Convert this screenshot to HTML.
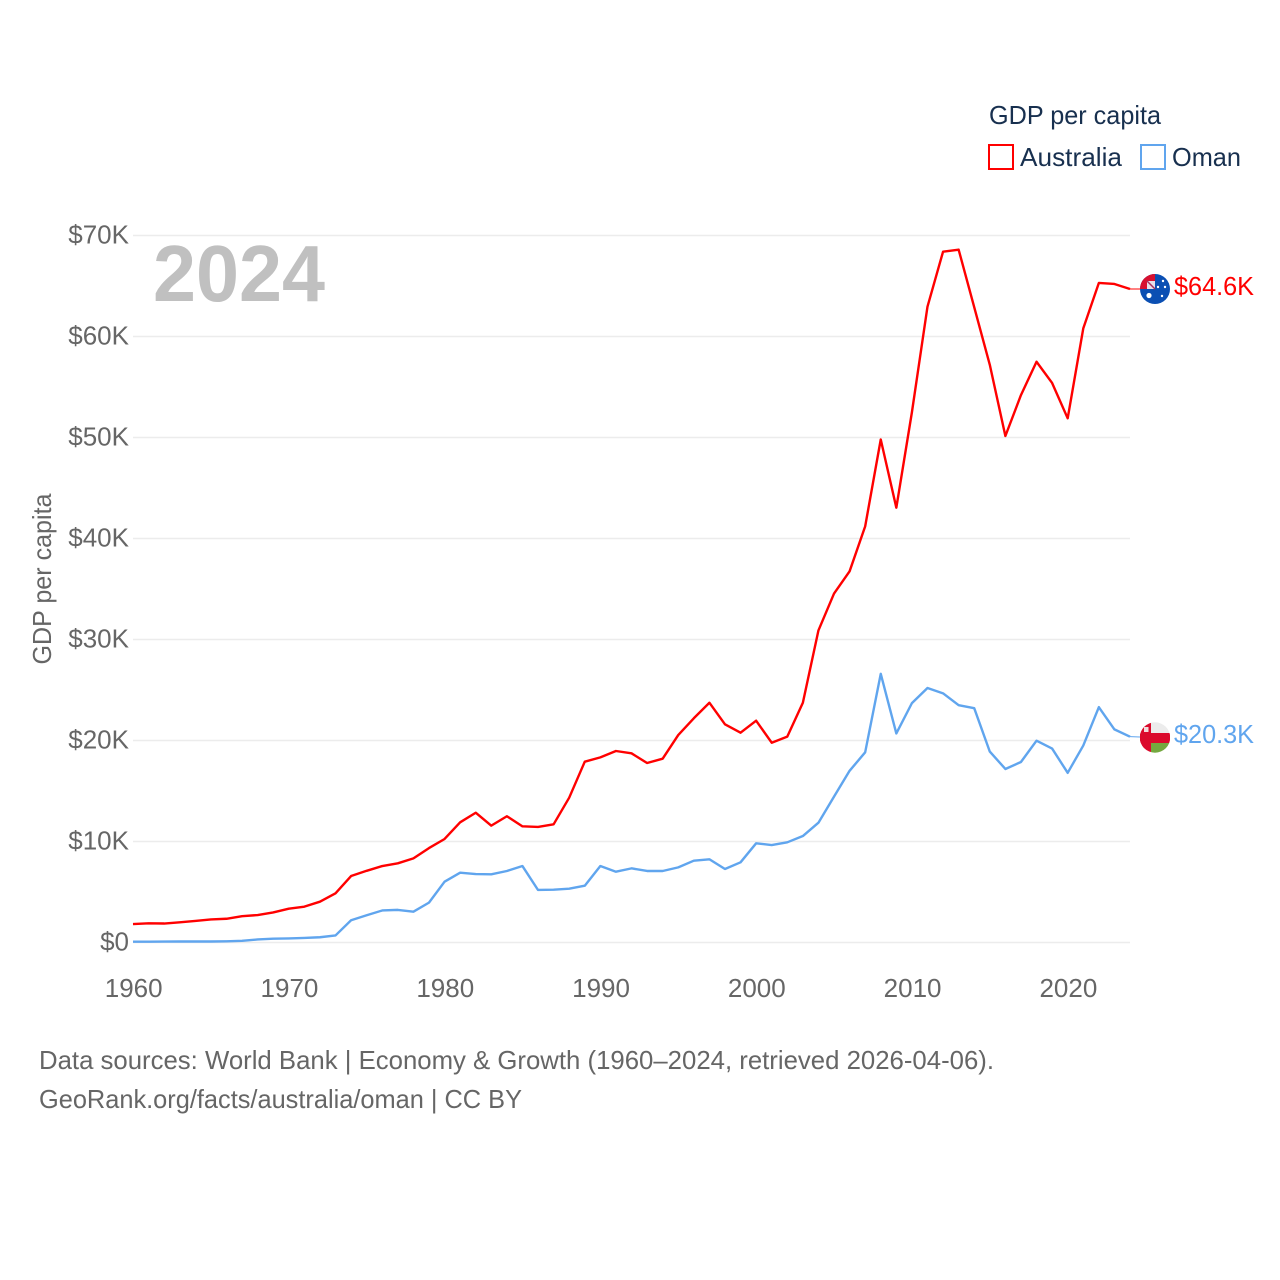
<!DOCTYPE html>
<html lang="en">
<head>
<meta charset="utf-8">
<title>GDP per capita: Australia vs Oman</title>
<style>
html,body{margin:0;padding:0;background:#fff;}
svg{display:block;font-family:"Liberation Sans",Arial,sans-serif;}
</style>
</head>
<body>
<svg id="chart" xmlns="http://www.w3.org/2000/svg" width="1280" height="1280" viewBox="0 0 1280 1280">
  <defs>
    <clipPath id="clip-au"><circle cx="1155" cy="289" r="15"/></clipPath>
    <clipPath id="clip-om"><circle cx="1155" cy="737.5" r="15.2"/></clipPath>
  </defs>
  <rect width="1280" height="1280" fill="#fff"/>
  <g id="grid"></g>
  <g id="yticks"></g>
  <g id="xticks"></g>
  <text transform="translate(51,579) rotate(-90)" text-anchor="middle" font-size="26" fill="#666" textLength="171" lengthAdjust="spacingAndGlyphs">GDP per capita</text>
  <text x="153" y="301" font-size="80" font-weight="700" fill="#c0c0c0" textLength="172" lengthAdjust="spacingAndGlyphs">2024</text>
  <g id="series"></g>

  <g>
    <text x="989" y="124" font-size="26" fill="#18304f" textLength="172" lengthAdjust="spacingAndGlyphs">GDP per capita</text>
    <g>
      <rect x="989" y="145" width="24" height="24" fill="#fff" stroke="#ff0000" stroke-width="2"/>
      <text x="1020" y="166" font-size="26" fill="#18304f" textLength="102" lengthAdjust="spacingAndGlyphs">Australia</text>
    </g>
    <g>
      <rect x="1141" y="145" width="24" height="24" fill="#fff" stroke="#60a5ee" stroke-width="2"/>
      <text x="1172" y="166" font-size="26" fill="#18304f" textLength="69" lengthAdjust="spacingAndGlyphs">Oman</text>
    </g>
  </g>

  <g clip-path="url(#clip-au)">
    <rect x="1140" y="274" width="30" height="30" fill="#0b4fb3"/>
    <rect x="1140" y="274" width="15" height="15" fill="#d8102f"/>
    <rect x="1147" y="281" width="8" height="8" fill="#e8dfe8"/>
    <path d="M1147 281 L1155 289" stroke="#a83060" stroke-width="1.5"/>
    <circle cx="1149" cy="295.5" r="2.6" fill="#fff"/>
    <circle cx="1163" cy="281" r="1.2" fill="#fff"/>
    <circle cx="1158" cy="287" r="1.2" fill="#fff"/>
    <circle cx="1165" cy="287" r="1.2" fill="#fff"/>
    <circle cx="1162" cy="296" r="1.2" fill="#fff"/>
  </g>
  <g clip-path="url(#clip-om)">
    <rect x="1140" y="722" width="30" height="11" fill="#ececec"/>
    <rect x="1140" y="733" width="30" height="10" fill="#db0a2c"/>
    <rect x="1151" y="743" width="19" height="10" fill="#74a83f"/>
    <rect x="1140" y="722" width="11" height="31" fill="#db0a2c"/>
    <rect x="1144" y="727" width="4.5" height="5" fill="#f2dcdc"/>
  </g>

  <g>
    <text x="39" y="1069" font-size="26" fill="#666" textLength="955" lengthAdjust="spacingAndGlyphs">Data sources: World Bank | Economy &amp; Growth (1960–2024, retrieved 2026-04-06).</text>
    <text x="39" y="1108" font-size="26" fill="#666" textLength="483" lengthAdjust="spacingAndGlyphs">GeoRank.org/facts/australia/oman | CC BY</text>
  </g>
</svg>
<script>
const years = [1960,1961,1962,1963,1964,1965,1966,1967,1968,1969,1970,1971,1972,1973,1974,1975,1976,1977,1978,1979,1980,1981,1982,1983,1984,1985,1986,1987,1988,1989,1990,1991,1992,1993,1994,1995,1996,1997,1998,1999,2000,2001,2002,2003,2004,2005,2006,2007,2008,2009,2010,2011,2012,2013,2014,2015,2016,2017,2018,2019,2020,2021,2022,2023,2024];
const australiaValues = [1.83,1.9,1.88,2.0,2.13,2.28,2.35,2.6,2.72,2.98,3.35,3.55,4.04,4.87,6.58,7.1,7.57,7.84,8.33,9.35,10.25,11.9,12.85,11.57,12.5,11.5,11.44,11.7,14.34,17.9,18.33,18.96,18.73,17.77,18.2,20.54,22.2,23.74,21.6,20.77,21.96,19.78,20.38,23.74,30.9,34.55,36.75,41.2,49.8,43.05,52.5,62.95,68.4,68.6,62.9,57.2,50.15,54.2,57.5,55.4,51.9,60.8,65.3,65.2,64.7];
const omanValues = [0.08,0.08,0.09,0.1,0.1,0.1,0.12,0.17,0.3,0.38,0.4,0.45,0.52,0.7,2.2,2.7,3.17,3.23,3.05,3.95,6.02,6.91,6.78,6.75,7.08,7.57,5.2,5.23,5.33,5.62,7.57,7.01,7.34,7.08,7.08,7.44,8.1,8.24,7.28,7.94,9.82,9.65,9.92,10.54,11.86,14.44,17.0,18.83,26.6,20.7,23.7,25.2,24.67,23.5,23.2,18.9,17.18,17.87,19.98,19.2,16.8,19.5,23.3,21.1,20.38];
const yTickValues = [0,10,20,30,40,50,60,70];
const xTickValues = [1960,1970,1980,1990,2000,2010,2020];
const australiaLabel = '$64.6K';
const omanLabel = '$20.3K';

const NS = 'http://www.w3.org/2000/svg';
function xScale(year){ return 133 + (year - 1960) * (1130 - 133) / 64; }
function yScale(v){ return 942.5 - v * (942.5 - 235.5) / 70; }
function yTickText(v){ return v === 0 ? '$0' : '$' + v + 'K'; }
function mk(tag, parent, attrs, text){
  const el = document.createElementNS(NS, tag);
  for (const k in attrs) el.setAttribute(k, attrs[k]);
  if (text !== undefined) el.textContent = text;
  parent.appendChild(el);
  return el;
}

const gridG = document.getElementById('grid');
const yG = document.getElementById('yticks');
const xG = document.getElementById('xticks');
const seriesG = document.getElementById('series');

yTickValues.forEach(function(v){
  const y = yScale(v);
  const line = mk('line', gridG, {x1:133, x2:1130, y1:y, y2:y, stroke:'#ececec', 'stroke-width':1.6});
  
  
  const label = mk('text', yG, {x:129, y:y + 8, 'text-anchor':'end', 'font-size':26, fill:'#666'}, yTickText(v));
  
  
});

xTickValues.forEach(function(yr){
  const label = mk('text', xG, {x:xScale(yr) + 0.7, y:997, 'text-anchor':'middle', 'font-size':26, fill:'#666'}, String(yr));
  
  
});

function drawSeries(values, color, name, flagY, labelText){
  const pts = values.map(function(v, i){ return xScale(years[i]).toFixed(2) + ',' + yScale(v).toFixed(2); }).join(' ');
  const line = mk('polyline', seriesG, {points:pts, fill:'none', stroke:color, 'stroke-width':2.4, 'stroke-linejoin':'round'});
  
  
  const last = values[values.length - 1];
  const ly = yScale(last);
  const conn = mk('line', seriesG, {x1:xScale(years[years.length - 1]), y1:ly, x2:1140, y2:flagY, stroke:color, 'stroke-width':1});
  
  
  const lab = mk('text', seriesG, {x:1174, y:flagY + 6, 'font-size':26, fill:color, textLength:80, lengthAdjust:'spacingAndGlyphs'}, labelText);
  
  
}
drawSeries(australiaValues, '#ff0000', 'australia', 289, australiaLabel);
drawSeries(omanValues, '#60a5ee', 'oman', 737, omanLabel);
</script>
</body>
</html>
